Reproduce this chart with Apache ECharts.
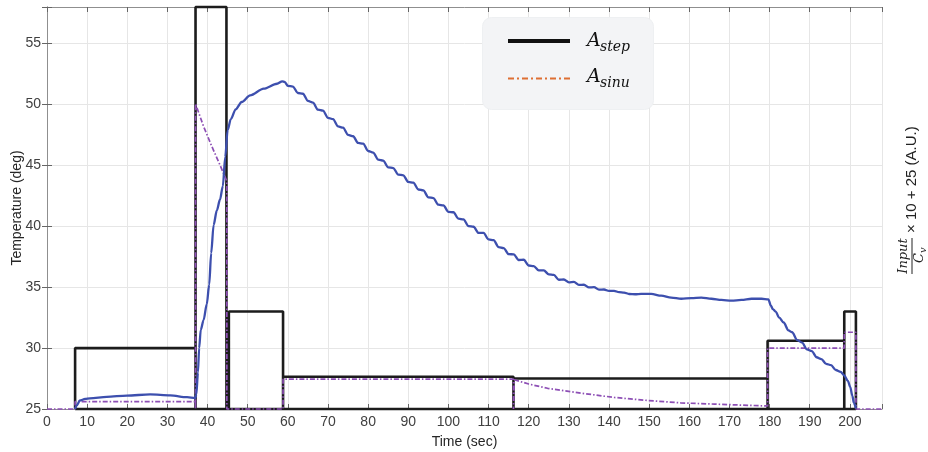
<!DOCTYPE html>
<html>
<head>
<meta charset="utf-8">
<script src="https://cdn.jsdelivr.net/npm/echarts@6/dist/echarts.min.js"></script>
<style>
html,body{margin:0;padding:0;background:#fff;}
#chart{width:928px;height:452px;}
</style>
</head>
<body>
<div id="chart"></div>
<script>
// ---------- DATA ----------
const xMin = 0, xMax = 208, xStep = 10;
const yMin = 25, yMax = 58, yStep = 5;
const baseLevel = 25;
const xTitle = 'Time (sec)';
const yTitle = 'Temperature (deg)';

// A_step input pulses (drawn as rectangles on the 25 baseline)
const pulseStart = [7, 37, 45.3, 58.8, 116.2, 179.5, 198.6];
const pulseEnd   = [37, 44.7, 58.8, 116.2, 179.5, 198.6, 201.5];
const pulseLevel = [30, 58, 33, 27.65, 27.5, 30.6, 33];

// A_sinu (dash-dot purple)
const sinuCurve = [
  [0,25],[7,25],[7,25.6],[37,25.6],[37,25],[37,50.05],[39,48.2],[41,46.6],[43,45.1],[44.8,43.7],[44.8,25],
  [58.8,25],[58.8,27.45],[116.2,27.45],[116.2,25],[116.4,27.4],[120,27.05],[124.7,26.7],[133,26.3],
  [141.3,25.95],[149.6,25.7],[157.9,25.5],[166.3,25.4],[174.6,25.3],[179.5,25.25],[179.5,30.0],
  [198.6,30.0],[198.6,31.3],[201.5,31.3],[201.5,25],[208,25]
];

// Temperature response (blue)
const tempCurve = [
  [7,25],[7.4,25.3],[8.2,25.7],[9.5,25.83],[10.7,25.88],[14.9,26.0],[19.9,26.1],[25.7,26.2],
  [30.7,26.12],[34.9,25.97],[36.9,25.9],
  [37.2,26.2],[37.6,28.0],[37.9,30.0],[38.3,31.5],[39.0,32.3],[39.8,33.6],[40.4,35.2],[40.9,37.8],
  [41.5,40.1],[42.3,41.3],[43.1,42.2],[43.8,43.3],[44.4,45.7],[45.0,47.9],[45.8,48.8],[47,49.6],
  [48.5,50.2],[50.6,50.75],[54,51.3],[57.3,51.7],[58.6,51.9],[59.2,51.85],
  [60,51.53],[61.25,51.47],[62.5,50.94],[63.75,50.88],[65,50.29],[66.25,50.15],[67.5,49.57],[68.75,49.49],
  [70,48.9],[71.25,48.79],[72.5,48.2],[73.75,48.09],[75,47.5],[76.25,47.39],[77.5,46.84],[78.75,46.78],
  [80,46.18],[81.25,46.05],[82.5,45.47],[83.75,45.39],[85,44.84],[86.25,44.78],[87.5,44.24],[88.75,44.18],
  [90,43.64],[91.25,43.58],[92.5,43.02],[93.75,42.94],[95,42.38],[96.25,42.31],[97.5,41.77],[98.75,41.71],
  [100,41.19],[101.25,41.15],[102.5,40.62],[103.75,40.56],[105,40.02],[106.25,39.96],[107.5,39.46],[108.75,39.45],
  [110,38.92],[111.25,38.86],[112.5,38.29],[113.75,38.21],[115,37.71],[116.25,37.7],[117.5,37.23],[118.75,37.25],
  [120,36.78],[121.25,36.73],[122.5,36.38],[123.75,36.38],[125,36.05],[126.25,36.01],[127.5,35.61],[128.75,35.63],
  [130,35.4],[131.25,35.44],[132.5,35.19],[133.75,35.2],[135,34.98],[136.25,35.0],[137.5,34.8],[138.75,34.81],
  [140,34.69],[141.25,34.7],[142.5,34.59],[143.75,34.56],[145,34.44],
  [146.5,34.42],[148,34.45],[150.5,34.45],[153,34.3],[155.5,34.15],[158,34.05],[160.5,34.1],[163,34.15],
  [165.5,34.05],[168,33.95],[170.5,33.9],[173,33.95],[175.5,34.05],[178,34.05],[179.7,34.0],
  [180.3,33.5],[180.8,33.2],[181.5,33.0],[182.4,32.5],[183.5,32.1],[184.7,31.45],[185.6,31.3],[186.9,30.65],
  [188.1,30.45],[189.3,29.9],[190.5,29.75],[191.7,29.25],[192.9,29.1],[194.1,28.7],[195.3,28.6],[196.5,28.2],
  [197.7,28.05],[198.6,27.75],[199.5,27.3],[200.1,26.8],[200.6,26.1],[201.0,25.5],[201.5,25.05]
];

// ---------- BUILD ----------
const stepLine = [[pulseStart[0], baseLevel]];
for (let i = 0; i < pulseStart.length; i++) {
  stepLine.push([pulseStart[i], baseLevel], [pulseStart[i], pulseLevel[i]],
                [pulseEnd[i], pulseLevel[i]], [pulseEnd[i], baseLevel]);
}
stepLine.push([pulseStart[0], baseLevel]);

const chart = echarts.init(document.getElementById('chart'), null, {renderer: 'canvas'});
const axisGray = '#8f8f8f';
const gridGray = '#e6e6e6';
const labelColor = '#404040';
const sansFont = 'Liberation Sans, Arial, sans-serif';

function xAxisCfg(pos, main) {
  return {
    type: 'value', position: pos, min: xMin, max: xMax, interval: xStep,
    name: main ? xTitle : '', nameLocation: 'middle', nameGap: 26,
    nameTextStyle: {fontSize: 14, color: '#262626', fontFamily: sansFont},
    axisLine: {show: true, lineStyle: {color: axisGray, width: 1}},
    axisTick: {show: true, inside: true, length: 5, lineStyle: {color: '#666'}},
    axisLabel: {show: main, fontSize: 14, color: labelColor, fontFamily: sansFont, margin: 6,
      formatter: v => (v % xStep === 0 ? String(v) : '')},
    splitLine: {show: main, lineStyle: {color: gridGray, width: 1}}
  };
}
function yAxisCfg(pos, main) {
  return {
    type: 'value', position: pos, min: yMin, max: yMax, interval: yStep,
    axisLine: {show: true, lineStyle: {color: axisGray, width: 1}},
    axisTick: {show: true, inside: true, length: 5, lineStyle: {color: '#666'}},
    axisLabel: {show: main, fontSize: 14, color: labelColor, fontFamily: sansFont, margin: 6,
      formatter: v => (v % yStep === 0 ? String(v) : '')},
    splitLine: {show: main, lineStyle: {color: gridGray, width: 1}}
  };
}

const serifFont = 'DejaVu Serif, Liberation Serif, serif';

const option = {
  animation: false,
  backgroundColor: '#ffffff',
  grid: {left: 47, right: 46, top: 7, bottom: 43, containLabel: false, outerBoundsMode: 'none'},
  xAxis: [xAxisCfg('bottom', true), xAxisCfg('top', false)],
  yAxis: [yAxisCfg('left', true), yAxisCfg('right', false)],
  series: [
    {
      name: 'A_step', type: 'line', data: stepLine, showSymbol: false, symbol: 'none', clip: false,
      lineStyle: {color: '#1c1c1c', width: 2.6}, z: 2
    },
    {
      name: 'A_sinu', type: 'line', data: sinuCurve, showSymbol: false, symbol: 'none', clip: false,
      lineStyle: {color: '#8d4fb5', width: 1.7, type: [5, 2, 1.5, 2]}, z: 3
    },
    {
      name: 'Temperature', type: 'line', data: tempCurve, showSymbol: false, symbol: 'none', clip: false,
      smooth: 0.3, smoothMonotone: 'x',
      lineStyle: {color: '#3d4fae', width: 2.3}, z: 4
    }
  ],
  graphic: [
    // left axis title
    {type: 'text', x: 17, y: 208, rotation: Math.PI / 2, z: 100,
     style: {text: yTitle, fontSize: 14, fontFamily: sansFont, fill: '#262626',
             textAlign: 'center', textVerticalAlign: 'middle'}},
    // legend box
    {type: 'rect', left: 482, top: 17, z: 100,
     shape: {width: 171, height: 92, r: 9},
     style: {fill: '#f3f4f6', stroke: '#eef0f2', lineWidth: 1}},
    {type: 'line', z: 101, shape: {x1: 508, y1: 41, x2: 570, y2: 41},
     style: {stroke: '#111', lineWidth: 4}},
    {type: 'line', z: 101, shape: {x1: 508, y1: 78.5, x2: 570, y2: 78.5},
     style: {stroke: '#de6f33', lineWidth: 2, lineDash: [6, 3, 2, 3]}},
    {type: 'text', z: 101, x: 587, y: 41,
     style: {text: 'A', fontSize: 19, fontStyle: 'italic', fontFamily: serifFont, fill: '#111',
             textAlign: 'left', textVerticalAlign: 'middle'}},
    {type: 'text', z: 101, x: 600, y: 47,
     style: {text: 'step', fontSize: 14, fontStyle: 'italic', fontFamily: serifFont, fill: '#111',
             textAlign: 'left', textVerticalAlign: 'middle'}},
    {type: 'text', z: 101, x: 587, y: 77,
     style: {text: 'A', fontSize: 19, fontStyle: 'italic', fontFamily: serifFont, fill: '#111',
             textAlign: 'left', textVerticalAlign: 'middle'}},
    {type: 'text', z: 101, x: 600, y: 83,
     style: {text: 'sinu', fontSize: 14, fontStyle: 'italic', fontFamily: serifFont, fill: '#111',
             textAlign: 'left', textVerticalAlign: 'middle'}},
    // right-hand axis label (rotated)
    {type: 'group', x: 912, y: 274, rotation: Math.PI / 2, z: 100,
     children: [
       {type: 'text', x: 18, y: -8,
        style: {text: 'Input', fontSize: 13, fontStyle: 'italic', fontFamily: serifFont, fill: '#222',
                textAlign: 'center', textVerticalAlign: 'middle'}},
       {type: 'line', shape: {x1: 0, y1: 0, x2: 36, y2: 0}, style: {stroke: '#222', lineWidth: 1}},
       {type: 'text', x: 16, y: 8,
        style: {text: 'C', fontSize: 13, fontStyle: 'italic', fontFamily: serifFont, fill: '#222',
                textAlign: 'center', textVerticalAlign: 'middle'}},
       {type: 'text', x: 21, y: 11,
        style: {text: 'v', fontSize: 10, fontStyle: 'italic', fontFamily: serifFont, fill: '#222',
                textAlign: 'left', textVerticalAlign: 'middle'}},
       {type: 'text', x: 41, y: 0,
        style: {text: '× 10 + 25 (A.U.)', fontSize: 15, fontFamily: sansFont, fill: '#222',
                textAlign: 'left', textVerticalAlign: 'middle'}}
     ]}
  ]
};
chart.setOption(option);
</script>
</body>
</html>
